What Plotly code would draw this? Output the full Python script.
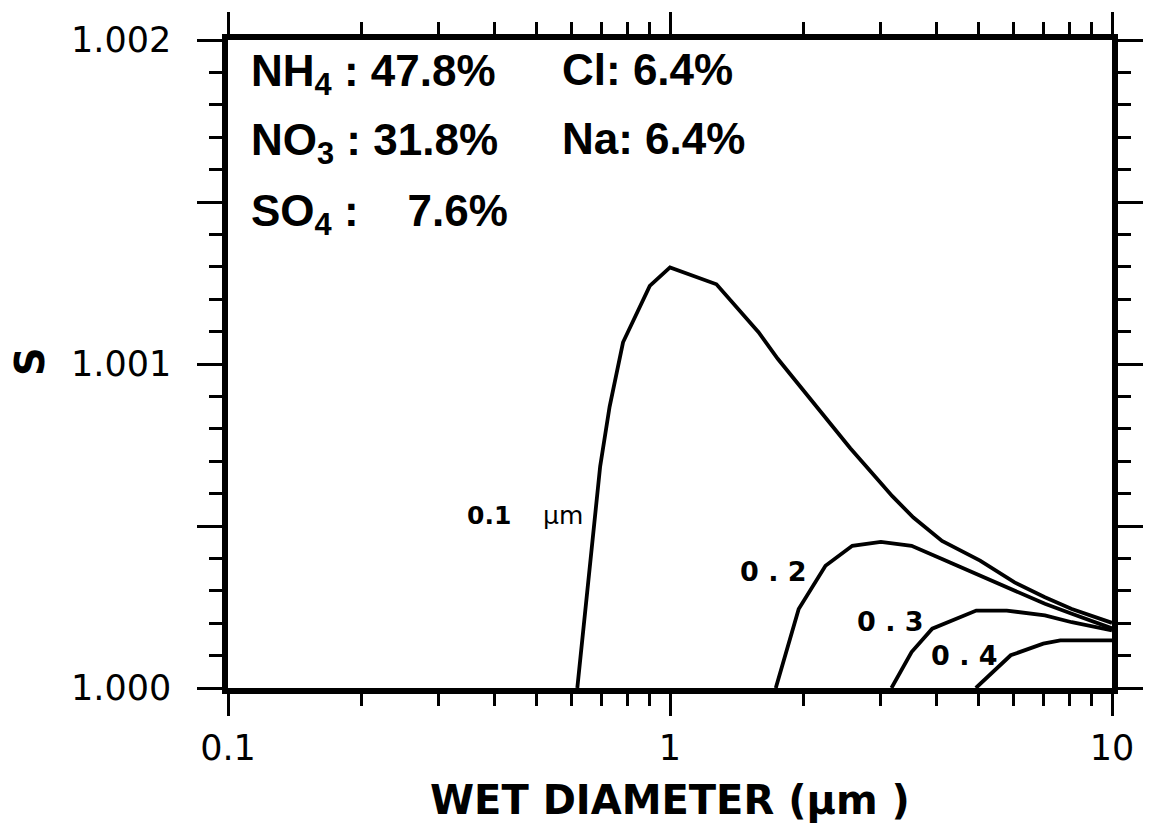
import plotly.graph_objects as go

# Wet diameter (µm) and supersaturation S for each dry diameter
d_01 = [0.617, 0.695, 0.730, 0.783, 0.90, 1.0, 1.274, 1.408, 1.586, 1.753, 1.955, 2.226,
        2.558, 2.884, 3.184, 3.554, 4.125, 5.03, 6.02, 7.05, 8.11, 10.0]
s_01 = [1.0000, 1.000684, 1.000868, 1.001067, 1.001241, 1.001298, 1.001246, 1.00118,
        1.001098, 1.001016, 1.000935, 1.000843, 1.00074, 1.000659, 1.000592, 1.000526,
        1.000454, 1.000393, 1.000326, 1.00028, 1.000244, 1.000201]

d_02 = [1.735, 1.955, 2.248, 2.585, 3.0, 3.52, 4.125, 5.03, 6.02, 7.05, 8.11, 10.0]
s_02 = [1.0000, 1.000244, 1.000377, 1.000439, 1.000451, 1.000439, 1.000398, 1.000347,
        1.0003, 1.00026, 1.000229, 1.000184]

d_03 = [3.17, 3.52, 3.92, 4.93, 5.78, 7.05, 8.11, 10.0]
s_03 = [1.0000, 1.000111, 1.000183, 1.000239, 1.000239, 1.000224, 1.000203, 1.000178]

d_04 = [4.92, 5.9, 6.99, 7.64, 10.0]
s_04 = [1.0000, 1.000101, 1.000137, 1.000147, 1.000147]

curves = [(d_01, s_01), (d_02, s_02), (d_03, s_03), (d_04, s_04)]

y_major = [1.000, 1.0005, 1.001, 1.0015, 1.002]
y_major_text = ["1.000", "", "1.001", "", "1.002"]
x_major = [0.1, 1, 10]
x_major_text = ["0.1", "1", "10"]
x_minor = [0.2, 0.3, 0.4, 0.5, 0.6, 0.7, 0.8, 0.9, 2, 3, 4, 5, 6, 7, 8, 9]

fig = go.Figure()
for d, s in curves:
    fig.add_trace(go.Scatter(x=d, y=s, mode="lines",
                             line=dict(color="black", width=3.8),
                             showlegend=False, hoverinfo="skip"))

TICKFONT = dict(family="DejaVu Sans", size=35, color="black")
BOXFONT = dict(family="Liberation Sans, Arial", size=44, color="black")
LBLFONT = dict(family="DejaVu Sans", size=27, color="black")

fig.update_xaxes(type="log", range=[-1, 1], tickmode="array",
                 tickvals=x_major, ticktext=x_major_text,
                 ticks="outside", ticklen=22, tickwidth=3, tickcolor="black",
                 showline=True, linewidth=5.5, linecolor="black", mirror="allticks",
                 showgrid=False, zeroline=False, tickfont=TICKFONT,
                 ticklabelstandoff=2,
                 minor=dict(tickmode="array", tickvals=x_minor, ticks="outside",
                            ticklen=12, tickwidth=3, tickcolor="black", showgrid=False))
fig.update_yaxes(range=[1.0, 1.002], tickmode="array",
                 tickvals=y_major, ticktext=y_major_text,
                 ticks="outside", ticklen=25, tickwidth=3, tickcolor="black",
                 showline=True, linewidth=5.5, linecolor="black", mirror="allticks",
                 showgrid=False, zeroline=False, tickfont=TICKFONT,
                 ticklabelstandoff=19,
                 minor=dict(tick0=1.0, dtick=0.0001, ticks="outside",
                            ticklen=13, tickwidth=3, tickcolor="black", showgrid=False))

L, R, T, B = 228, 45, 36, 149
W, H = 1157, 837
pw, ph = W - L - R, H - T - B

def px(x):
    return (x - L) / pw

def py(y):
    return (H - B - y) / ph

annots = [
    # axis titles
    dict(text="<b>WET DIAMETER (µm )</b>", x=px(670), y=py(801), font=dict(family="DejaVu Sans", size=40, color="black"),
         xanchor="center", yanchor="middle"),
    dict(text="<b>S</b>", x=px(30), y=py(360), textangle=-90, font=dict(family="DejaVu Sans", size=40, color="black"),
         xanchor="center", yanchor="middle"),
    # composition box
    dict(text="<b>NH<sub>4</sub> : 47.8%</b>", x=px(249), y=py(70), font=BOXFONT, xanchor="left", yanchor="middle"),
    dict(text="<b>NO<sub>3</sub> : 31.8%</b>", x=px(249), y=py(140), font=BOXFONT, xanchor="left", yanchor="middle"),
    dict(text="<b>SO<sub>4</sub> :\u00a0\u00a0\u00a0\u00a07.6%</b>", x=px(249), y=py(211), font=BOXFONT, xanchor="left", yanchor="middle"),
    dict(text="<b>Cl: 6.4%</b>", x=px(560), y=py(66), font=BOXFONT, xanchor="left", yanchor="middle"),
    dict(text="<b>Na: 6.4%</b>", x=px(560), y=py(135), font=BOXFONT, xanchor="left", yanchor="middle"),
    # curve labels
    dict(text="<b>0.1</b>\u00a0\u00a0\u00a0\u00a0µm", x=px(525), y=py(514), font=dict(family="DejaVu Sans", size=25, color="black"),
         xanchor="center", yanchor="middle"),
    dict(text="<b>0 . 2</b>", x=px(773), y=py(571), font=LBLFONT, xanchor="center", yanchor="middle"),
    dict(text="<b>0 . 3</b>", x=px(890), y=py(621), font=LBLFONT, xanchor="center", yanchor="middle"),
    dict(text="<b>0 . 4</b>", x=px(964), y=py(655), font=LBLFONT, xanchor="center", yanchor="middle"),
]
for a in annots:
    a.update(xref="paper", yref="paper", showarrow=False)
    fig.add_annotation(**a)

fig.update_layout(width=W, height=H, margin=dict(l=L, r=R, t=T, b=B),
                  plot_bgcolor="white", paper_bgcolor="white")

fig.write_html("out.html")
